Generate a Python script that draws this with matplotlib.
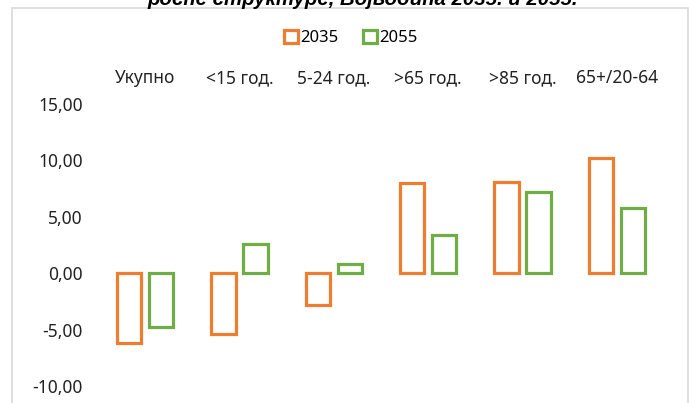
import matplotlib.pyplot as plt
import matplotlib.patches as patches
import numpy as np

categories = ['Укупно', '<15 год.', '5-24 год.', '>65 год.', '>85 год.', '65+/20-64']
values_2035 = [-6.2, -5.4, -2.8, 8.0, 8.1, 10.2]
values_2055 = [-4.8, 2.6, 0.8, 3.4, 7.2, 5.8]
series_names = ['2035', '2055']
yticks = [-10, -5, 0, 5, 10, 15]

orange = '#ED7D31'
green = '#70AD47'

plt.rcParams['font.family'] = ['Noto Sans', 'DejaVu Sans']

fig = plt.figure(figsize=(6.89, 4.03), dpi=100)
ax = fig.add_axes([98 / 689, 1 - 386 / 403, 566 / 689, 282 / 403])

# chart border
fig.patches.append(patches.Rectangle((12 / 689, -0.05), 676 / 689, 1 - 8 / 403 + 0.05,
                                     transform=fig.transFigure, fill=False,
                                     edgecolor='#d9d9d9', lw=1.2))

x = np.arange(len(categories))
w = 0.26
off = 0.17
ax.bar(x - off, values_2035, w, facecolor='none', edgecolor=orange, lw=2.3, label=series_names[0])
ax.bar(x + off, values_2055, w, facecolor='none', edgecolor=green, lw=2.3, label=series_names[1])

ax.set_xlim(-0.5, len(categories) - 0.5)
ax.set_ylim(-10, 15)
ax.set_yticks(yticks)
ax.set_yticklabels([('%.2f' % v).replace('.', ',') for v in yticks])
ax.xaxis.tick_top()
ax.set_xticks(x)
ax.set_xticklabels(categories)
ax.tick_params(axis='both', length=0, labelsize=12.5, colors='#222222')
ax.tick_params(axis='x', pad=12)
ax.tick_params(axis='y', pad=11)
for s in ax.spines.values():
    s.set_visible(False)

fig.legend(loc='center', bbox_to_anchor=(351 / 689, 1 - 38 / 403), ncol=2, frameon=False,
           fontsize=12, handlelength=0.8, handleheight=0.8, handletextpad=0.15,
           columnspacing=1.5)

fig.text(363 / 689, 1 - 5 / 403, 'росне структуре, Војводина 2035. и 2055.', ha='center',
         va='baseline', fontsize=14.7, fontweight='bold', fontstyle='italic',
         family=['Liberation Sans', 'DejaVu Sans'])

fig.savefig('out.png', dpi=100)
